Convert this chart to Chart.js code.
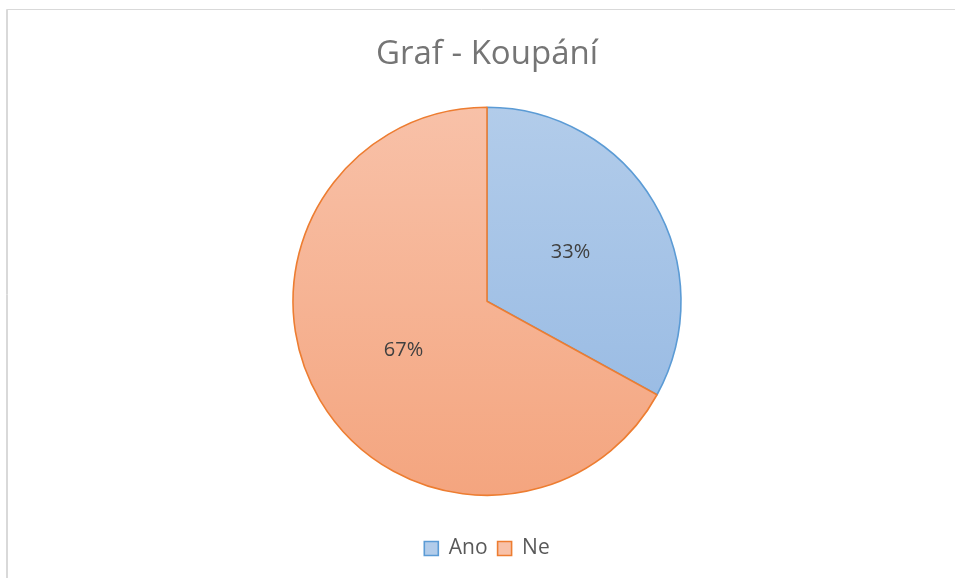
<!DOCTYPE html>
<html>
<head>
<meta charset="utf-8">
<script src="https://cdn.jsdelivr.net/npm/chart.js@4.4.1/dist/chart.umd.min.js"></script>
<style>
  html, body { margin: 0; padding: 0; background: #ffffff; }
  #wrap { position: absolute; left: 0; top: 0; width: 955px; height: 578px; }
</style>
</head>
<body>
<div id="wrap"><canvas id="c" width="955" height="578"></canvas></div>
<script>
const categories = ['Ano', 'Ne'];
const values = [33, 67];
const chartTitle = 'Graf - Koupání';

const PIE_RADIUS = 194;
const topColors = ['#B2CCEA', '#F8C1A8'];
const bottomColors = ['#93B7E2', '#F4A57F'];
const borderColors = ['#5B9BD5', '#ED7D31'];

function gradientFor(ctx) {
  const chart = ctx.chart;
  const area = chart.chartArea;
  if (!area) return topColors[ctx.dataIndex];
  const cy = (area.top + area.bottom) / 2;
  const g = chart.ctx.createLinearGradient(0, cy - PIE_RADIUS, 0, cy + PIE_RADIUS);
  g.addColorStop(0, topColors[ctx.dataIndex]);
  g.addColorStop(1, bottomColors[ctx.dataIndex]);
  return g;
}

const frame = {
  id: 'frame',
  beforeDraw(chart) {
    const c = chart.ctx;
    c.save();
    c.strokeStyle = '#D9D9D9';
    c.lineWidth = 1;
    c.beginPath();
    c.moveTo(6.5, 600);
    c.lineTo(6.5, 9.5);
    c.lineTo(1000, 9.5);
    c.stroke();
    c.beginPath();
    c.moveTo(7.5, 600);
    c.lineTo(7.5, 10);
    c.stroke();
    c.restore();
  }
};

const pctLabels = {
  id: 'pctLabels',
  afterDatasetsDraw(chart) {
    const c = chart.ctx;
    const meta = chart.getDatasetMeta(0);
    const data = chart.data.datasets[0].data;
    const total = data.reduce((a, b) => a + b, 0);
    c.save();
    c.font = '20px "Open Sans"';
    c.fillStyle = '#404040';
    c.textAlign = 'center';
    c.textBaseline = 'middle';
    meta.data.forEach((arc, i) => {
      const p = arc.tooltipPosition();
      c.fillText(Math.round(data[i] / total * 100) + '%', p.x, p.y);
    });
    c.restore();
  }
};

new Chart(document.getElementById('c'), {
  type: 'pie',
  data: {
    labels: categories,
    datasets: [{
      data: values,
      backgroundColor: gradientFor,
      borderColor: borderColors,
      borderWidth: 1.6,
      radius: PIE_RADIUS
    }]
  },
  options: {
    responsive: false,
    animation: false,
    layout: { padding: { left: 19, right: 0, top: 0, bottom: 9 } },
    plugins: {
      title: {
        display: true,
        text: chartTitle,
        color: '#757575',
        font: { family: '"Open Sans"', size: 33, weight: 'normal', lineHeight: 1.2 },
        padding: { top: 35, bottom: 0 }
      },
      legend: {
        display: true,
        position: 'bottom',
        labels: {
          color: '#595959',
          font: { family: '"Open Sans"', size: 21 },
          boxWidth: 14,
          boxHeight: 14,
          padding: 10,
          generateLabels(chart) {
            return chart.data.labels.map((l, i) => ({
              text: l,
              fillStyle: topColors[i],
              strokeStyle: borderColors[i],
              fontColor: '#595959',
              lineWidth: 1.6,
              index: i,
              hidden: false
            }));
          }
        }
      },
      tooltip: { enabled: false }
    }
  },
  plugins: [frame, pctLabels]
});
</script>
</body>
</html>
